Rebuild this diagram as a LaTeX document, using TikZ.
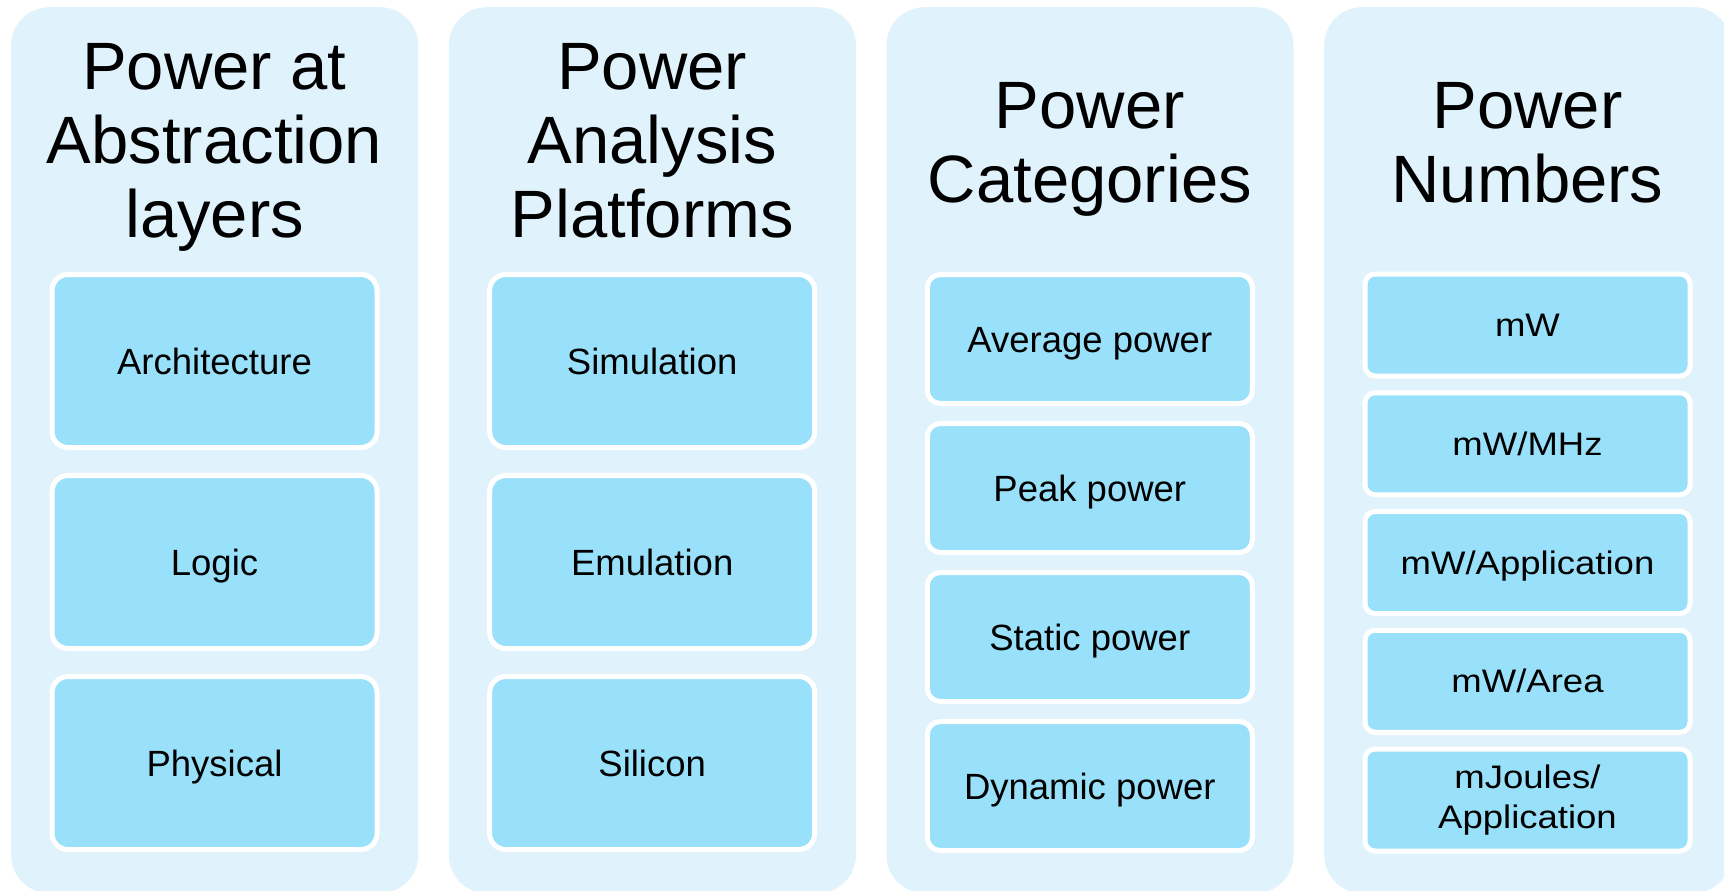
\documentclass[tikz,border=0pt]{standalone}
\usepackage{fontspec}
\setmainfont{Liberation Sans}
\newfontfamily\widefont[FakeStretch=1.12]{Liberation Sans}
\usepackage{xcolor}
\usetikzlibrary{positioning}
\definecolor{panelblue}{RGB}{224,242,252}
\definecolor{boxblue}{RGB}{153,225,250}

\begin{document}
\begin{tikzpicture}[x=1pt,y=-1pt,
    panel/.style={fill=panelblue, rounded corners=38pt, inner sep=0pt,
        minimum width=407pt, minimum height=886pt, anchor=north west},
    title/.style={align=center, inner sep=0pt, font=\fontsize{67}{74}\selectfont},
    item/.style={draw=white, line width=5pt, fill=boxblue, inner sep=0pt,
        minimum width=325pt, align=center, text height=26pt, text depth=0pt,
        font=\fontsize{36.5}{44}\selectfont},
    bigitem/.style={item, minimum height=173pt, rounded corners=16pt},
    miditem/.style={item, minimum height=129pt, rounded corners=13pt},
    numitem/.style={draw=white, line width=5pt, fill=boxblue, inner sep=0pt,
        minimum width=325pt, minimum height=102pt, rounded corners=10pt,
        align=center, font=\widefont\fontsize{32.6}{40}\selectfont},
    oneline/.style={text height=23pt, text depth=0pt}]
    \useasboundingbox (0,0) rectangle (1724,891);

    % Draw the four panels
    \node[panel] (layers)     at (11,7) {};
    \node[panel] (platforms)  at (448.7,7) {};
    \node[panel] (categories) at (886.3,7) {};
    \node[panel] (numbers)    at (1324,7) {};

    % Panel titles
    \node[title] (layers-title)     at (214.5,147.5)  {Power at\\Abstraction\\layers};
    \node[title] (platforms-title)  at (652.2,140.5)  {Power\\Analysis\\Platforms};
    \node[title] (categories-title) at (1089.8,149.5) {Power\\Categories};
    \node[title] (numbers-title)    at (1527.5,142.5) {Power\\Numbers};

    % Abstraction layers
    \node[bigitem] (arch)  at (214.5,361) {Architecture};
    \node[bigitem] (logic) at (214.5,562) {Logic};
    \node[bigitem] (phys)  at (214.5,763) {Physical};

    % Analysis platforms
    \node[bigitem] (sim)  at (652.2,361) {Simulation};
    \node[bigitem] (emu)  at (652.2,562) {Emulation};
    \node[bigitem] (sil)  at (652.2,763) {Silicon};

    % Power categories
    \node[miditem] (avg)    at (1089.8,339) {Average power};
    \node[miditem] (peak)   at (1089.8,488) {Peak power};
    \node[miditem] (static) at (1089.8,637) {Static power};
    \node[miditem] (dyn)    at (1089.8,786) {Dynamic power};

    % Power numbers
    \node[numitem,oneline] (mw)      at (1527.5,325)    {mW};
    \node[numitem,oneline] (mw-mhz)  at (1527.5,443.75) {mW/MHz};
    \node[numitem,oneline] (mw-app)  at (1527.5,562.5)  {mW/Application};
    \node[numitem,oneline] (mw-area) at (1527.5,681.25) {mW/Area};
    \node[numitem] (mj-app)          at (1527.5,800)    {mJoules/\\Application};

\end{tikzpicture}
\end{document}
